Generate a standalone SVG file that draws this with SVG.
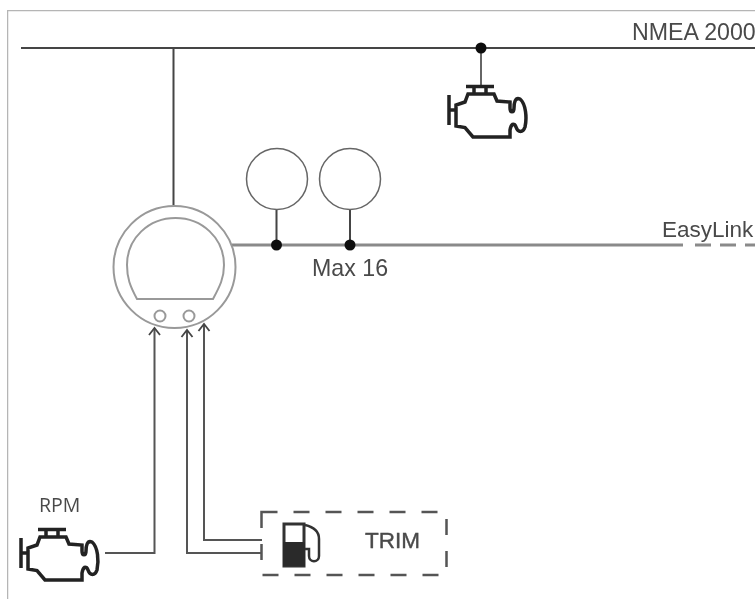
<svg xmlns="http://www.w3.org/2000/svg" width="755" height="599" viewBox="0 0 755 599">
<style>
text{font-family:"Liberation Sans",Arial,sans-serif;fill:#4a4a4a;font-size:22.500px}
.ln{fill:none;stroke:#444;stroke-width:2}
.bus{fill:none;stroke:#8a8a8a;stroke-width:3}
.thin{fill:none;stroke:#999;stroke-width:2}
.dark{fill:none;stroke:#222;stroke-width:3.500}
.dot{fill:#111}
.arrow{fill:none;stroke:#444;stroke-width:1.800}
</style>
<defs>
<filter id="soft" x="0" y="0" width="100%" height="100%"><feGaussianBlur stdDeviation="0.7"/></filter>
<g id="engine">
<path class="dark" d="M449 95V125M449 110H456M456 105V126L465 127.500L473 137H510V130C511 124 514 122 516 127C518 133 523 133 525 127C527 118 526 104 520 99C515 97 514 103 514 108C514 113 510 113 510 108V102L497 101L494 94H468L465 102L456 105Z"/>
<path class="dark" d="M466 86.500H494M474 86V94M486 86V94"/>
</g>
</defs>
<g filter="url(#soft)">
<g id="frame"><path fill="none" stroke="#b5b5b5" stroke-width="1.500" d="M7.500 599V10.500H755"/></g>
<g id="connectors">
<path class="ln" d="M21 48H755"/>
<path class="ln" d="M173.500 48V205"/>
<path class="ln" style="stroke:#666" d="M481 48V86"/>
<path class="bus" d="M232 245H683"/>
<path class="bus" stroke-dasharray="16 9" d="M695 245H755"/>
<path class="ln" d="M276.500 209V245M350 210V245"/>
<path class="ln" style="stroke:#555" d="M105 553H154.500V329"/>
<path class="ln" style="stroke:#555" d="M262 553H187V331"/>
<path class="ln" style="stroke:#555" d="M262 540H204V325"/>
<path class="arrow" d="M149 335L154.500 328L160 335M181.500 337L187 330L192.500 337M198.500 331L204 324L209.500 331"/>
<circle class="dot" cx="481" cy="48" r="5.500"/>
<circle class="dot" cx="276.500" cy="245" r="5.500"/>
<circle class="dot" cx="350" cy="245" r="5.500"/>
</g>
<g id="nmea-engine"><use href="#engine"/></g>
<g id="rpm-engine"><use href="#engine" transform="translate(-428 443)"/><text x="39" y="512" style="font-family:'Open Sans',sans-serif;font-size:19.500px">RPM</text></g>
<g id="display">
<circle class="thin" cx="174.500" cy="267" r="61"/>
<path class="thin" d="M137 299H213C220 286 224 278 224 265C224 238 202 218 175.500 218C149 218 127 238 127 265C127 278 130 286 137 299Z"/>
<circle class="thin" cx="160" cy="316" r="5.500"/>
<circle class="thin" cx="189" cy="316" r="5.500"/>
</g>
<g id="sensor-1"><circle cx="277" cy="179" r="30.500" fill="#fff" stroke="#666" stroke-width="1.500"/></g>
<g id="sensor-2"><circle cx="350" cy="179" r="30.500" fill="#fff" stroke="#666" stroke-width="1.500"/></g>
<g id="labels">
<text x="632" y="40" style="font-size:23.200px">NMEA 2000</text>
<text x="662" y="237">EasyLink</text>
<text x="312" y="276" style="font-size:23.200px">Max 16</text>
</g>
<g id="trim">
<rect x="261.500" y="512" width="185" height="63" fill="none" stroke="#555" stroke-width="2.500" stroke-dasharray="16 16"/>
<rect x="284" y="524" width="20" height="42" fill="none" stroke="#333" stroke-width="3"/>
<rect x="283" y="542" width="22" height="24" fill="#2a2a2a"/>
<path fill="none" stroke="#333" stroke-width="2.500" d="M305 525C314 527 319 531 319 539V556C319 563 309 563 309 556V549H305"/>
<text x="365" y="548" style="stroke:#4a4a4a;stroke-width:.4">TRIM</text>
</g>
</g>
</svg>
